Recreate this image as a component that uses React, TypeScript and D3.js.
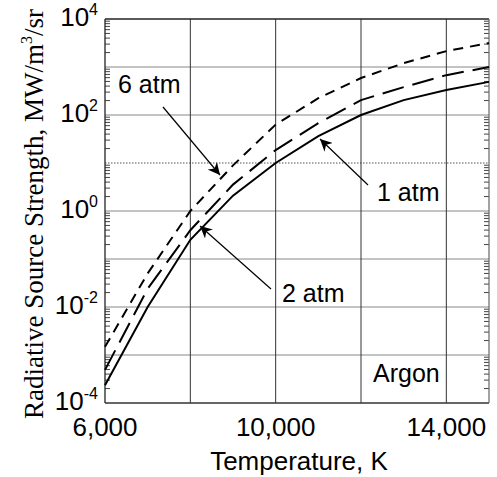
import React from "react";
import * as d3 from "d3";

const temps = [6000, 7000, 8000, 9000, 10000, 11000, 12000, 13000, 14000, 15000];
// log10 of radiative source strength (MW/m^3/sr)
const atm1 = [-3.63, -2.0, -0.6, 0.32, 1.0, 1.56, 2.0, 2.31, 2.52, 2.69];
const atm2 = [-3.31, -1.62, -0.4, 0.55, 1.27, 1.83, 2.31, 2.58, 2.83, 3.0];
const atm6 = [-2.83, -1.3, 0.0, 0.95, 1.8, 2.35, 2.77, 3.08, 3.33, 3.5];
const xTicks = [6000, 10000, 14000];
const xGrid = [8000, 10000, 12000, 14000];
const yTickExps = [4, 2, 0, -2, -4];
const yGridExps = [3, 2, 1, 0, -1, -2, -3];

const W = 497, H = 477;
const M = { left: 105, right: 489, top: 19, bottom: 403 };

export default function App() {
  const x = d3.scaleLinear().domain([6000, 15000]).range([M.left, M.right]);
  const y = d3.scaleLog().domain([1e-4, 1e4]).range([M.bottom, M.top]);
  const line = d3
    .line<[number, number]>()
    .x((d) => x(d[0]))
    .y((d) => y(Math.pow(10, d[1])));
  const mk = (arr: number[]) => line(temps.map((t, i) => [t, arr[i]] as [number, number])) || "";

  const minor: number[] = [];
  for (let e = -4; e < 4; e++) for (let k = 2; k <= 9; k++) minor.push(k * Math.pow(10, e));

  const sans = "Liberation Sans, Arial, sans-serif";
  const serif = "Liberation Serif, Times New Roman, serif";
  const axisLabelY = 214;

  return (
    <svg width={W} height={H} style={{ position: "absolute", left: 0, top: 0, background: "#fff" }}>
      <rect x={0} y={0} width={W} height={H} fill="#fff" />
      {/* horizontal decade grid */}
      {yGridExps.map((e) => (
        <line
          key={"hg" + e}
          x1={M.left}
          x2={M.right}
          y1={y(Math.pow(10, e))}
          y2={y(Math.pow(10, e))}
          stroke={e === 1 ? "#555" : "#888"}
          strokeWidth={e === 1 ? 1 : 1.2}
          strokeDasharray={e === 1 ? "1.5,1.5" : undefined}
        />
      ))}
      {/* vertical grid */}
      {xGrid.map((t) => (
        <line key={"vg" + t} x1={x(t)} x2={x(t)} y1={M.top} y2={M.bottom} stroke="#333" strokeWidth={1} />
      ))}
      {/* minor ticks */}
      {minor.map((v, i) => (
        <g key={"mt" + i}>
          <line x1={M.left} x2={M.left + 5} y1={y(v)} y2={y(v)} stroke="#444" strokeWidth={1} />
          <line x1={M.right - 5} x2={M.right} y1={y(v)} y2={y(v)} stroke="#444" strokeWidth={1} />
        </g>
      ))}
      {/* frame */}
      <line x1={M.left} x2={M.right} y1={M.top} y2={M.top} stroke="#222" strokeWidth={1.3} />
      <line x1={M.left} x2={M.right} y1={M.bottom} y2={M.bottom} stroke="#333" strokeWidth={1.3} />
      <line x1={M.left} x2={M.left} y1={M.top} y2={M.bottom} stroke="#222" strokeWidth={1.3} />
      <line x1={M.right} x2={M.right} y1={M.top} y2={M.bottom} stroke="#666" strokeWidth={1.2} />

      {/* curves */}
      <path d={mk(atm1)} fill="none" stroke="#000" strokeWidth={2} />
      <path d={mk(atm2)} fill="none" stroke="#000" strokeWidth={2} strokeDasharray="22,9" />
      <path d={mk(atm6)} fill="none" stroke="#000" strokeWidth={2} strokeDasharray="10,7" />

      {/* arrows */}
      <defs>
        <marker id="ah" viewBox="0 0 10 10" refX="10" refY="5" markerWidth="12" markerHeight="12" markerUnits="userSpaceOnUse" orient="auto">
          <path d="M0,0 L10,5 L0,10 L3,5 Z" fill="#000" />
        </marker>
      </defs>
      <line x1={163} y1={107} x2={220} y2={175} stroke="#000" strokeWidth={1.2} markerEnd="url(#ah)" />
      <line x1={368} y1={185} x2={320} y2={139} stroke="#000" strokeWidth={1.2} markerEnd="url(#ah)" />
      <line x1={271} y1={289} x2={200} y2={226} stroke="#000" strokeWidth={1.2} markerEnd="url(#ah)" />

      {/* annotation labels */}
      <text x={118} y={93} fontFamily={sans} fontSize={25} fill="#000">6 atm</text>
      <text x={377} y={201} fontFamily={sans} fontSize={25} fill="#000">1 atm</text>
      <text x={282} y={302} fontFamily={sans} fontSize={25} fill="#000">2 atm</text>
      <text x={373} y={382} fontFamily={sans} fontSize={25} fill="#000">Argon</text>

      {/* y tick labels */}
      {yTickExps.map((e) => (
        <text key={"yt" + e} x={98} y={y(Math.pow(10, e)) + 7} textAnchor="end" fontFamily={sans} fontSize={26} fill="#000">
          10
          <tspan fontSize={16} dy={-11}>{String(e)}</tspan>
        </text>
      ))}
      {/* x tick labels */}
      {xTicks.map((t) => (
        <text key={"xt" + t} x={x(t)} y={436} textAnchor="middle" fontFamily={sans} fontSize={26} fill="#000">
          {d3.format(",")(t)}
        </text>
      ))}
      <text x={(M.left + M.right) / 2 + 2} y={470} textAnchor="middle" fontFamily={sans} fontSize={26} fill="#000">
        Temperature, K
      </text>
      <text
        transform={`translate(43,${axisLabelY}) rotate(-90)`}
        textAnchor="middle"
        fontFamily={serif}
        fontSize={27}
        fill="#000"
      >
        Radiative Source Strength, MW/m
        <tspan fontSize={16} dy={-11}>3</tspan>
        <tspan dy={11}>/sr</tspan>
      </text>
    </svg>
  );
}
